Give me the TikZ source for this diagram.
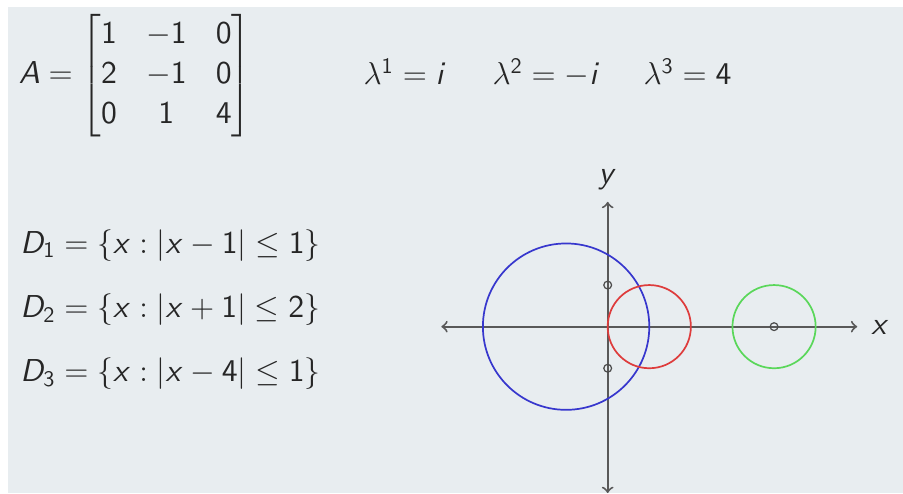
\RequirePackage{fix-cm}
\documentclass[tikz,border=0pt]{standalone}
\usepackage{amsmath}
\DeclareFontFamily{OT1}{cmssw}{}
\DeclareFontShape{OT1}{cmssw}{m}{n}{<-> cmss10}{}
\DeclareFontShape{OT1}{cmssw}{m}{sl}{<-> cmssi10}{}
\DeclareSymbolFont{sfit}{OT1}{cmssw}{m}{sl}
\DeclareSymbolFont{sfup}{OT1}{cmssw}{m}{n}
\DeclareMathSymbol{A}{\mathalpha}{sfit}{`A}
\DeclareMathSymbol{D}{\mathalpha}{sfit}{`D}
\DeclareMathSymbol{x}{\mathalpha}{sfit}{`x}
\DeclareMathSymbol{y}{\mathalpha}{sfit}{`y}
\DeclareMathSymbol{i}{\mathalpha}{sfit}{`i}
\DeclareMathSymbol{0}{\mathalpha}{sfup}{`0}
\DeclareMathSymbol{1}{\mathalpha}{sfup}{`1}
\DeclareMathSymbol{2}{\mathalpha}{sfup}{`2}
\DeclareMathSymbol{3}{\mathalpha}{sfup}{`3}
\DeclareMathSymbol{4}{\mathalpha}{sfup}{`4}
\definecolor{slidebg}{RGB}{232,237,240}
\definecolor{discred}{RGB}{222,60,60}
\definecolor{discblue}{RGB}{55,55,205}
\definecolor{discgreen}{RGB}{90,215,90}

\begin{document}
\begin{tikzpicture}[x=0.6cm, y=0.6cm,
		every node/.style={inner sep=0pt, text=black!85, font=\fontsize{13}{15.8}\selectfont},
		axis/.style={draw=black!65, line width=0.8pt, <->, >=to},
		disc/.style={line width=0.7pt},
		eig/.style={circle, draw=black!70, line width=0.5pt, minimum size=3.2pt}
	]
	\useasboundingbox (-14.61,-4) rectangle (7.10,7.853);
	\fill[slidebg] (-14.42,-4) rectangle (7.10,7.685);
	\node[anchor=west] (A) at (-14.17,6.04) {$A = {\setlength\arraycolsep{6pt}\renewcommand\arraystretch{1.04}\begin{bmatrix}1 & -1 & 0\\ 2 & -1 & 0\\ 0 & 1 & 4\end{bmatrix}}$};
	\node[anchor=base west] (L1) at (-5.88,5.81) {$\lambda^1 = i$};
	\node[anchor=base west] (L2) at (-2.78,5.81) {$\lambda^2 = -i$};
	\node[anchor=base west] (L3) at (0.85,5.81) {$\lambda^3 = 4$};
	\node[anchor=base west] (D1) at (-14.13,1.77) {$D_1 = \{x : |x-1| \leq 1\}$};
	\node[anchor=base west] (D2) at (-14.13,0.22) {$D_2 = \{x : |x+1| \leq 2\}$};
	\node[anchor=base west] (D3) at (-14.13,-1.33) {$D_3 = \{x : |x-4| \leq 1\}$};
	\coordinate (xmin) at (-4,0);
	\coordinate (xmax) at (6,0);
	\coordinate (ymin) at (0,-4);
	\coordinate (ymax) at (0,3);
	\draw[axis] (xmin) -- (xmax);
	\draw[axis] (ymin) -- (ymax);
	\node[anchor=base] (ylab) at (0,3.45) {$y$};
	\node[anchor=base west] (xlab) at (6.33,-0.2) {$x$};
	\coordinate (c1) at (1,0);
	\coordinate (c2) at (-1,0);
	\coordinate (c3) at (4,0);
	\draw[disc, discblue] (c2) circle (2);
	\draw[disc, discred] (c1) circle (1);
	\draw[disc, discgreen] (c3) circle (1);
	\node[eig] (e1) at (0,1) {};
	\node[eig] (e2) at (0,-1) {};
	\node[eig] (e3) at (c3) {};
\end{tikzpicture}
\end{document}
